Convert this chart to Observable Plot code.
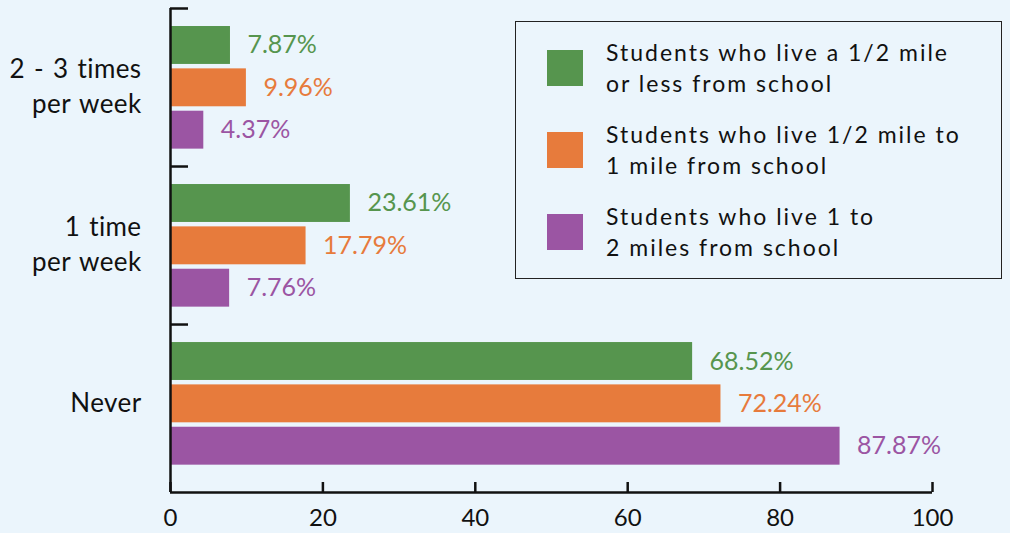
<!DOCTYPE html>
<html><head><meta charset="utf-8">
<script src="https://cdn.jsdelivr.net/npm/d3@7"></script>
<script src="https://cdn.jsdelivr.net/npm/@observablehq/plot@0.6"></script>
<style>
html,body{margin:0;padding:0;background:#ebf5fc;}
#wrap{position:relative;width:1010px;height:533px;font-family:Lato,sans-serif;overflow:hidden;}
#legend{position:absolute;left:515px;top:21px;width:487px;height:258px;border:1.5px solid #222;box-sizing:border-box;padding-top:15px;}
.item{display:flex;align-items:center;height:62px;margin-bottom:20px;}
.sw{width:36px;height:36px;margin-left:31px;flex:none;}
.lab{margin-left:23px;font-size:23px;line-height:31px;letter-spacing:2px;white-space:pre-line;color:#111;}
.cat text{letter-spacing:0.4px;word-spacing:2px;}
</style></head>
<body><div id="wrap"></div>
<script>
const categories = ["2 - 3 times\nper week", "1 time\nper week", "Never"];
const seriesNames = [
  "Students who live a 1/2 mile\nor less from school",
  "Students who live 1/2 mile to\n1 mile from school",
  "Students who live 1 to\n2 miles from school"
];
const colors = ["#56954e", "#e77b3c", "#9b55a3"];
const halfMileOrLess = [7.87, 23.61, 68.52];
const halfToOneMile = [9.96, 17.79, 72.24];
const oneToTwoMiles = [4.37, 7.76, 87.87];
const xTicks = [0, 20, 40, 60, 80, 100];

// layout constants (group units)
const barStart = 0.114, barStep = 0.268, barH = 0.24, yMax = 3.063;

const seriesValues = [halfMileOrLess, halfToOneMile, oneToTwoMiles];
const rows = [];
categories.forEach((c, ci) => {
  seriesValues.forEach((vals, si) => {
    const y1 = ci + barStart + si * barStep;
    rows.push({category: c, series: seriesNames[si], value: vals[ci], y1, y2: y1 + barH});
  });
});

const plot = Plot.plot({
  width: 1010, height: 533,
  marginLeft: 170, marginRight: 78, marginTop: 8, marginBottom: 41,
  style: {background: "transparent", fontFamily: "Lato, sans-serif", fontSize: "24px", color: "#111", overflow: "visible"},
  x: {domain: [0, 100], label: null},
  y: {domain: [0, yMax], reverse: true, label: null},
  color: {domain: seriesNames, range: colors},
  marks: [
    Plot.rect(rows, {x1: 0, x2: "value", y1: "y1", y2: "y2", fill: "series"}),
    Plot.text(rows, {x: "value", y: d => (d.y1 + d.y2) / 2, text: d => d.value.toFixed(2) + "%", fill: "series", dx: 17, textAnchor: "start", fontSize: 25}),
    Plot.ruleX([0], {stroke: "#111", strokeWidth: 2.5}),
    Plot.ruleY([yMax], {stroke: "#111", strokeWidth: 2.5}),
    Plot.axisX({ticks: xTicks, tickSize: -10, tickPadding: 26, strokeWidth: 2.5, fontSize: 24, label: null}),
    Plot.axisY({ticks: [0, 1, 2], tickSize: -18, tickFormat: () => "", strokeWidth: 2.5, label: null}),
    Plot.axisY({ticks: [0.5, 1.5, 2.5], tickSize: 0, tickPadding: 29, tickFormat: v => categories[Math.floor(v)], lineHeight: 1.35, fontSize: 26, dy: -3, className: "cat", label: null})
  ]
});
const wrap = document.getElementById("wrap");
wrap.appendChild(plot);

const legend = document.createElement("div");
legend.id = "legend";
seriesNames.forEach((name, i) => {
  const item = document.createElement("div");
  item.className = "item";
  const sw = document.createElement("div");
  sw.className = "sw";
  sw.style.background = colors[i];
  const lab = document.createElement("div");
  lab.className = "lab";
  lab.textContent = name;
  item.appendChild(sw); item.appendChild(lab);
  legend.appendChild(item);
});
wrap.appendChild(legend);
</script>
</body></html>
